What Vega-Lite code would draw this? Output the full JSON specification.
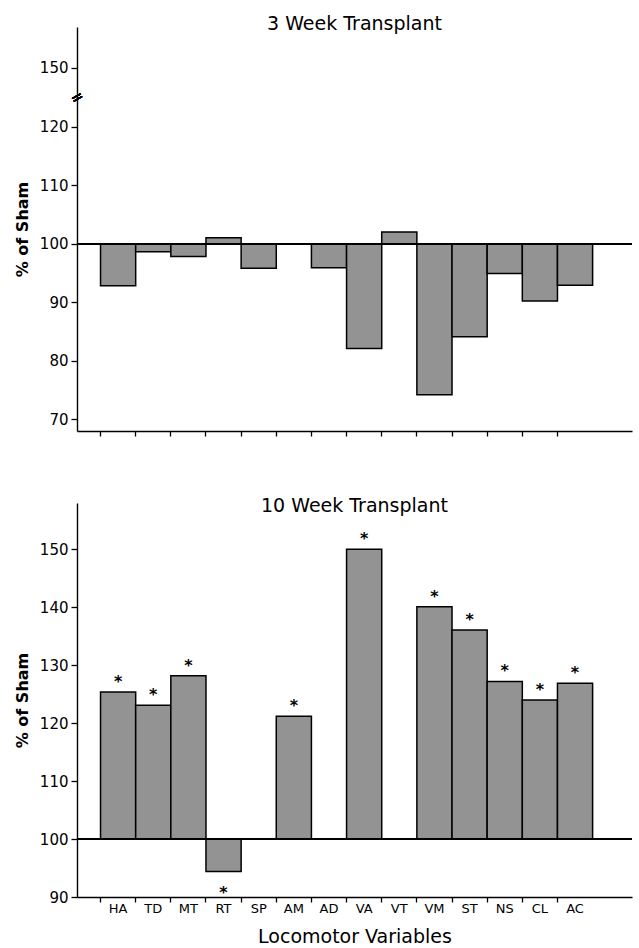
{
  "$schema": "https://vega.github.io/schema/vega-lite/v6.json",
  "background": "white",
  "padding": {"left": 14, "top": 15, "right": 2, "bottom": 0},
  "spacing": 60,
  "config": {
    "font": "DejaVu Sans",
    "view": {"stroke": null},
    "axis": {
      "grid": false,
      "domainColor": "black",
      "tickColor": "black",
      "labelColor": "black",
      "titleColor": "black",
      "domainWidth": 1.4,
      "tickWidth": 1.3
    },
    "axisY": {
      "labelFontSize": 15,
      "tickSize": 6,
      "labelPadding": 3,
      "titleFontSize": 16,
      "titleFontWeight": "bold",
      "titlePadding": 9
    },
    "title": {"fontSize": 19, "fontWeight": "normal", "color": "black", "anchor": "middle", "baseline": "alphabetic"}
  },
  "datasets": {
    "w3": [
      {"var": "HA", "pct": 92.8},
      {"var": "TD", "pct": 98.6},
      {"var": "MT", "pct": 97.8},
      {"var": "RT", "pct": 101},
      {"var": "SP", "pct": 95.8},
      {"var": "AM", "pct": null},
      {"var": "AD", "pct": 95.9},
      {"var": "VA", "pct": 82.1},
      {"var": "VT", "pct": 102},
      {"var": "VM", "pct": 74.2},
      {"var": "ST", "pct": 84.1},
      {"var": "NS", "pct": 94.9},
      {"var": "CL", "pct": 90.2},
      {"var": "AC", "pct": 92.9}
    ],
    "w10": [
      {"var": "HA", "pct": 125.4, "sig": true},
      {"var": "TD", "pct": 123.1, "sig": true},
      {"var": "MT", "pct": 128.2, "sig": true},
      {"var": "RT", "pct": 94.4, "sig": true},
      {"var": "SP", "pct": null, "sig": false},
      {"var": "AM", "pct": 121.2, "sig": true},
      {"var": "AD", "pct": null, "sig": false},
      {"var": "VA", "pct": 150, "sig": true},
      {"var": "VT", "pct": null, "sig": false},
      {"var": "VM", "pct": 140.1, "sig": true},
      {"var": "ST", "pct": 136.1, "sig": true},
      {"var": "NS", "pct": 127.2, "sig": true},
      {"var": "CL", "pct": 124, "sig": true},
      {"var": "AC", "pct": 126.9, "sig": true}
    ]
  },
  "vconcat": [
    {
      "width": 555,
      "height": 404,
      "title": {"text": "3 Week Transplant", "offset": -7},
      "data": {"name": "w3"},
      "layer": [
        {
          "mark": {"type": "bar", "fill": "#939393", "stroke": "black", "strokeWidth": 1.5},
          "encoding": {
            "x": {
              "field": "var", "type": "nominal", "sort": null,
              "scale": {"domain": ["HA","TD","MT","RT","SP","AM","AD","VA","VT","VM","ST","NS","CL","AC"], "paddingInner": 0, "paddingOuter": 0.895, "align": 0.374},
              "axis": {"title": null, "labels": false, "bandPosition": 0, "tickSize": 5}
            },
            "y": {
              "field": "pct", "type": "quantitative",
              "scale": {"domain": [68, 137], "nice": false, "zero": false},
              "axis": {"values": [70, 80, 90, 100, 110, 120, 130], "labelExpr": "datum.value == 130 ? '150' : datum.label", "title": "% of Sham"}
            },
            "y2": {"datum": 100}
          }
        },
        {
          "mark": {"type": "rule", "color": "black", "strokeWidth": 1.5},
          "encoding": {"y": {"datum": 100}}
        },
        {
          "mark": {"type": "text", "text": "=", "angle": -30, "fontSize": 15, "color": "black"},
          "encoding": {"x": {"value": 0}, "y": {"datum": 125}}
        }
      ]
    },
    {
      "width": 555,
      "height": 394,
      "title": {"text": "10 Week Transplant", "offset": -13},
      "data": {"name": "w10"},
      "layer": [
        {
          "mark": {"type": "bar", "fill": "#939393", "stroke": "black", "strokeWidth": 1.5},
          "encoding": {
            "x": {
              "field": "var", "type": "nominal", "sort": null,
              "scale": {"domain": ["HA","TD","MT","RT","SP","AM","AD","VA","VT","VM","ST","NS","CL","AC"], "paddingInner": 0, "paddingOuter": 0.895, "align": 0.374},
              "axis": {"title": "Locomotor Variables", "titleFontSize": 19, "titleFontWeight": "normal", "titlePadding": 12, "labelFontSize": 13, "labelAngle": 0, "labelPadding": 0, "bandPosition": 0, "tickSize": 5}
            },
            "y": {
              "field": "pct", "type": "quantitative",
              "scale": {"domain": [90, 158], "nice": false, "zero": false},
              "axis": {"values": [90, 100, 110, 120, 130, 140, 150], "title": "% of Sham"}
            },
            "y2": {"datum": 100}
          }
        },
        {
          "mark": {"type": "rule", "color": "black", "strokeWidth": 1.5},
          "encoding": {"y": {"datum": 100}}
        },
        {
          "transform": [{"filter": "datum.sig && datum.pct > 100"}],
          "mark": {"type": "text", "text": "*", "fontSize": 16, "fontWeight": "bold", "baseline": "alphabetic", "dy": -5, "color": "black"},
          "encoding": {"x": {"field": "var", "type": "nominal"}, "y": {"field": "pct", "type": "quantitative"}}
        },
        {
          "transform": [{"filter": "datum.sig && datum.pct < 100"}],
          "mark": {"type": "text", "text": "*", "fontSize": 16, "fontWeight": "bold", "baseline": "alphabetic", "dy": 26, "color": "black"},
          "encoding": {"x": {"field": "var", "type": "nominal"}, "y": {"field": "pct", "type": "quantitative"}}
        }
      ]
    }
  ]
}
